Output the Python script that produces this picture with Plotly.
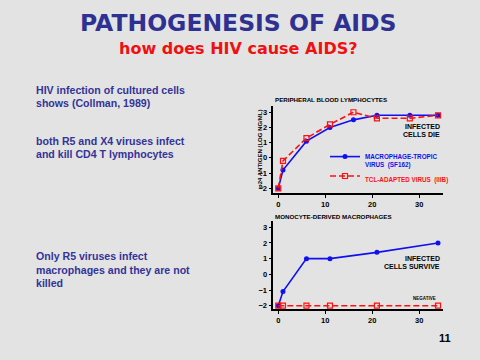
import plotly.graph_objects as go

# ---- data ----
days_pbl_blue = [0, 1, 6, 11, 16, 21, 28, 34]
pbl_macrophage_tropic = [-2.0, -0.8, 1.1, 2.0, 2.5, 2.8, 2.8, 2.8]
days_pbl_red = [0, 1, 6, 11, 16, 21, 28, 34]
pbl_tcl_adapted = [-2.0, -0.2, 1.3, 2.2, 3.0, 2.6, 2.6, 2.8]

days_mdm_blue = [0, 1, 6, 11, 21, 34]
mdm_macrophage_tropic = [-2.0, -1.1, 1.0, 1.0, 1.4, 2.0]
days_mdm_red = [0, 1, 6, 11, 21, 34]
mdm_tcl_adapted = [-2.0, -2.0, -2.0, -2.0, -2.0, -2.0]

x_ticks = [0, 10, 20, 30]
y_ticks = [-2, -1, 0, 1, 2, 3]

BLUE = "#1010f0"
RED = "#ff1010"
TXT = "#333399"
BG = "#e3e3e3"
FONT = "Liberation Sans, Arial, sans-serif"
WIDE = "DejaVu Sans, Liberation Sans, sans-serif"

W, H = 480, 360
def px(x):
    return x / W
def py(y):
    return 1 - y / H

fig = go.Figure()

blue_style = dict(mode="lines+markers", line=dict(color=BLUE, width=1.6),
                  marker=dict(symbol="circle", size=5, color=BLUE))
red_style = dict(mode="lines+markers", line=dict(color=RED, width=1.6, dash="6px,3px"),
                 marker=dict(symbol="square-open", size=5, color=RED, line=dict(width=1.2, color=RED)))

fig.add_trace(go.Scatter(x=days_pbl_blue, y=pbl_macrophage_tropic, xaxis="x", yaxis="y",
                         name="<span style='color:%s'>MACROPHAGE-TROPIC<br>VIRUS  (SF162)</span>" % BLUE,
                         showlegend=True, **blue_style))
fig.add_trace(go.Scatter(x=days_pbl_red, y=pbl_tcl_adapted, xaxis="x", yaxis="y",
                         name="<span style='color:%s'>TCL-ADAPTED VIRUS  (IIIB)</span>" % RED,
                         showlegend=True, **red_style))
fig.add_trace(go.Scatter(x=days_mdm_blue, y=mdm_macrophage_tropic, xaxis="x2", yaxis="y2",
                         showlegend=False, **blue_style))
fig.add_trace(go.Scatter(x=days_mdm_red, y=mdm_tcl_adapted, xaxis="x2", yaxis="y2",
                         showlegend=False, **red_style))

axis_common = dict(showgrid=False, zeroline=False, showline=True, linecolor="black", linewidth=1.5,
                   ticks="outside", ticklen=3, tickwidth=1, tickcolor="black",
                   tickfont=dict(family=FONT, size=7.5, color="black", weight="bold"))

xdom = [px(273.3), px(442.7)]
fig.update_layout(
    width=W, height=H, margin=dict(l=0, r=0, t=0, b=0),
    paper_bgcolor=BG, plot_bgcolor=BG,
    xaxis=dict(domain=xdom, range=[-1.06, 35], tickvals=x_ticks, anchor="y", **axis_common),
    yaxis=dict(domain=[py(193), py(106)], range=[-2.31, 3.41], tickvals=y_ticks, anchor="x", **axis_common),
    xaxis2=dict(domain=xdom, range=[-1.06, 35], tickvals=x_ticks, anchor="y2", **axis_common),
    yaxis2=dict(domain=[py(309), py(221)], range=[-2.21, 3.4], tickvals=y_ticks, anchor="x2", **axis_common),
    legend=dict(x=px(325), y=py(146), xanchor="left", yanchor="top", bgcolor="rgba(0,0,0,0)",
                font=dict(family=FONT, size=6.3, color="black", weight="bold"),
                valign="top", tracegroupgap=0, itemwidth=30),
    showlegend=True,
)

def ann(text, x, y, size, color, xanchor="left", weight="bold", family=FONT, **kw):
    fig.add_annotation(text=text, x=px(x), y=py(y), xref="paper", yref="paper",
                       xanchor=xanchor, yanchor="middle", showarrow=False,
                       font=dict(family=family, size=size, color=color, weight=weight), **kw)

ann("PATHOGENESIS OF AIDS", 238, 22.5, 23.5, "#2e3192", xanchor="center", family=WIDE)
ann("how does HIV cause AIDS?", 238, 49, 16, "#f01010", xanchor="center", family=WIDE)

left_lines = [("HIV infection of cultured cells", 89.5),
              ("shows (Collman, 1989)", 103.5),
              ("both R5 and X4 viruses infect", 141),
              ("and kill CD4 T lymphocytes", 153.5),
              ("Only R5 viruses infect", 256),
              ("macrophages and they are not", 269.5),
              ("killed", 283)]
for t, y in left_lines:
    ann(t, 34, y, 10.6, TXT)

ann("PERIPHERAL BLOOD LYMPHOCYTES", 273, 99.5, 6.2, "black")
ann("MONOCYTE-DERIVED MACROPHAGES", 273, 216.5, 6.2, "black")
ann("INFECTED", 442, 126.5, 7, "black", xanchor="right")
ann("CELLS DIE", 442, 134.5, 7, "black", xanchor="right")
ann("INFECTED", 442, 258.5, 7, "black", xanchor="right")
ann("CELLS SURVIVE", 442, 266.5, 7, "black", xanchor="right")
ann("NEGATIVE", 424, 298.5, 4.5, "black", xanchor="center")
ann("p24 ANTIGEN (LOG NG/ML)", 260, 149, 6, "black", xanchor="center", textangle=-90)
ann("11", 445, 337.5, 11, "black", xanchor="center")

fig.write_html("out.html", config={"displayModeBar": False},
               post_script="document.body.style.margin='0';document.body.style.background='%s';" % BG)
